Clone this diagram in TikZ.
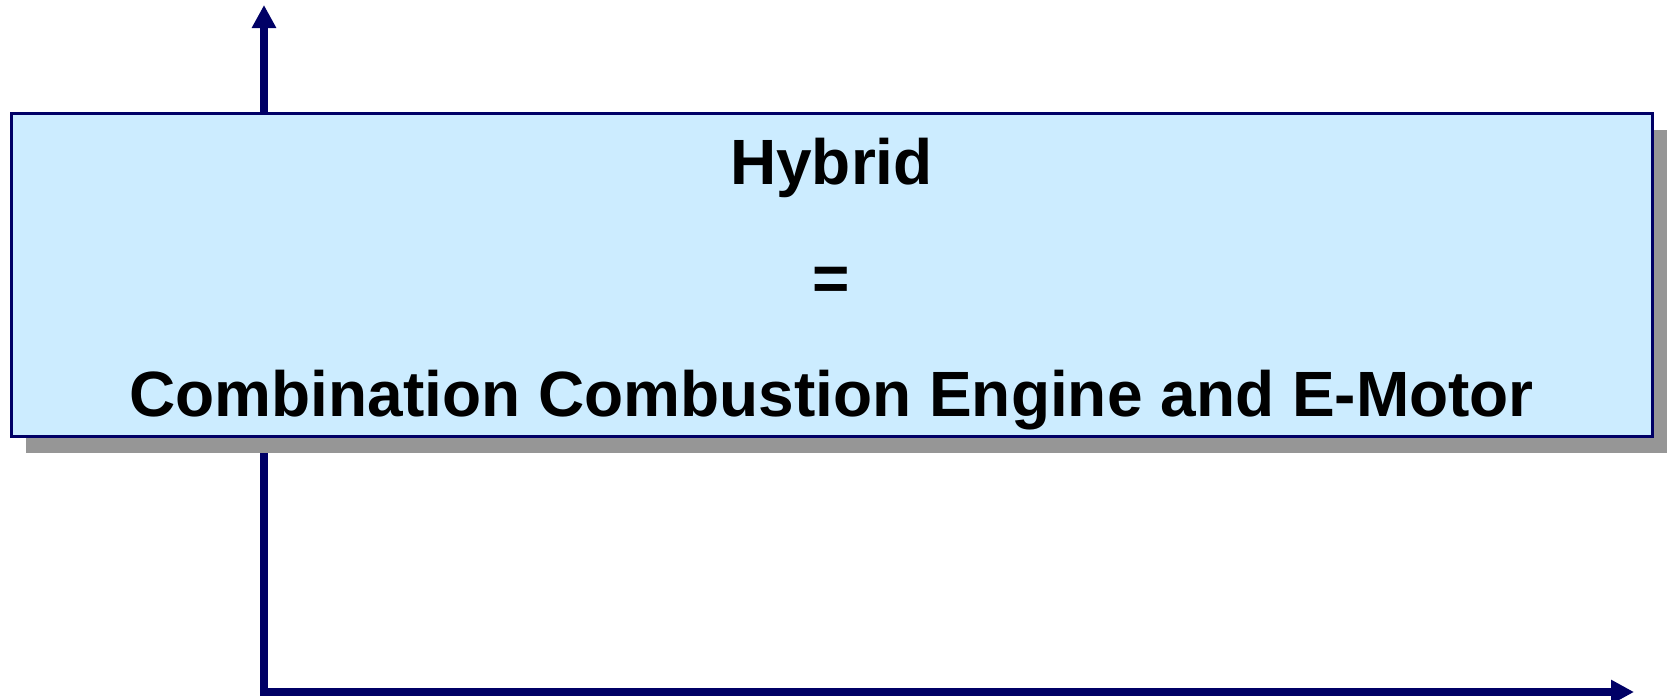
\documentclass[tikz,border=0pt]{standalone}
\usepackage{fontspec}
\setmainfont{Liberation Sans}
\usepackage{tikz}
\usetikzlibrary{arrows.meta,shadows}

\definecolor{axisblue}{HTML}{000066}
\definecolor{boxfill}{HTML}{CCECFF}
\definecolor{shadowgray}{HTML}{969696}

\begin{document}
\begin{tikzpicture}[x=1pt,y=-1pt]
      \tikzset{axis line/.style={draw=axisblue,
          line width=8pt,
          {Triangle[length=23pt,width=23pt]}-{Triangle[length=23pt,width=23pt]}},
        hybrid box/.style={draw=axisblue,
          line width=3pt,
          fill=boxfill,
          minimum width=1641pt,
          minimum height=323pt,
          inner sep=0pt,
          drop shadow={shadow xshift=15pt,shadow yshift=-16pt,fill=shadowgray,opacity=1}},
        box text/.style={anchor=base,inner sep=0pt,
          font=\fontsize{64}{76}\selectfont\bfseries}
      }
      \useasboundingbox (0,0) rectangle (1671,699);
      \coordinate (O) at (264,692);
      \coordinate (Ytop) at (264,5);
      \coordinate (Xend) at (1634,692);
      \draw [axis line] (Ytop)--(O)--(Xend);

      \node [hybrid box] (box) at (831.5,275) {};
      \node [box text] (hybrid) at (831.5,184) {Hybrid};
      \node [box text] (eq) at (831.5,300) {=};
      \node [box text] (combo) at (831.5,416) {Combination Combustion Engine and E-Motor};

    \end{tikzpicture}
\end{document}
